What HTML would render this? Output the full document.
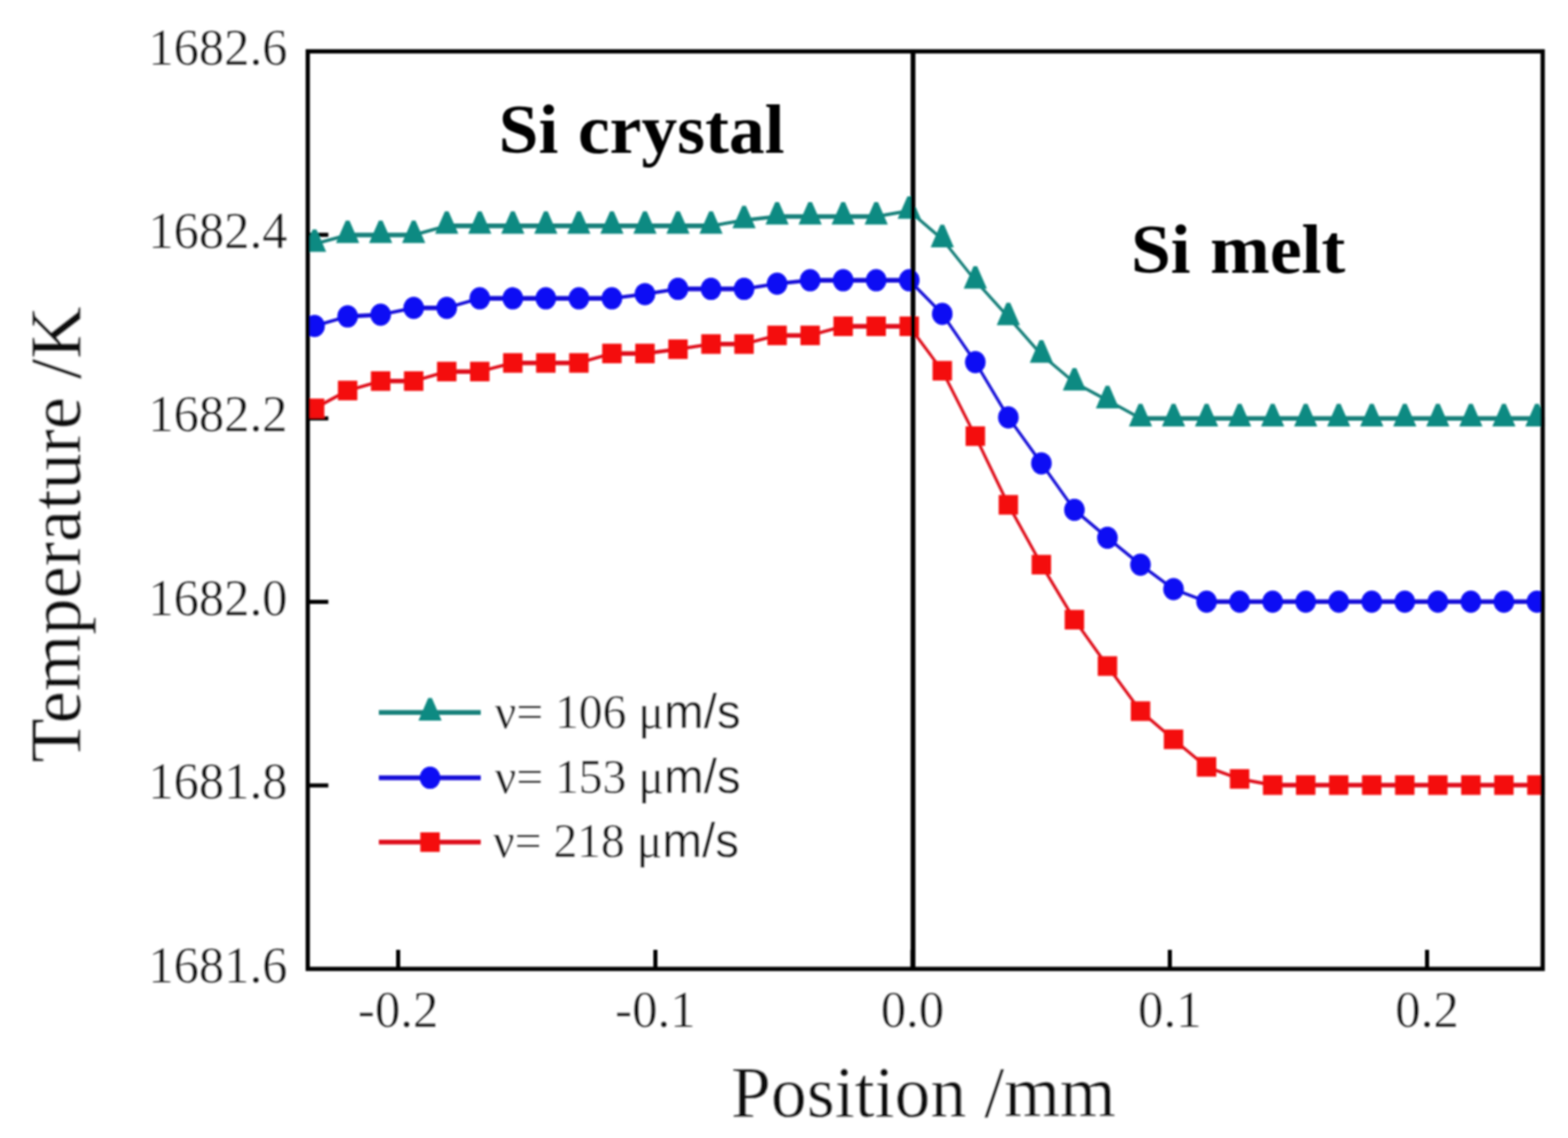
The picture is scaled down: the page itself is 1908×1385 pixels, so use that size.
<!DOCTYPE html>
<html lang="en"><head><meta charset="utf-8"><title>Temperature vs Position</title>
<style>
html,body{margin:0;padding:0;background:#fff;}
body{width:1908px;height:1385px;overflow:hidden;}
svg{display:block;}
text{font-family:"Liberation Serif","Times New Roman",serif;fill:#080808;stroke:#fff;stroke-width:0.4px;}
.tk{font-size:62.5px;}
.ttl{font-size:87px;}
.b{font-weight:bold;font-size:86px;fill:#000;stroke:none;word-spacing:2px;}
.lg{font-size:58.5px;}
.sans{font-family:"Liberation Sans",Arial,sans-serif;}
</style></head><body>
<svg width="1908" height="1385" viewBox="0 0 1908 1385">
<rect x="0" y="0" width="1908" height="1385" fill="#ffffff"/>
<defs><clipPath id="pa"><rect x="372.0" y="62.5" width="1507.2" height="1116.7"/></clipPath>
<filter id="soft" x="-5%" y="-5%" width="110%" height="110%"><feGaussianBlur stdDeviation="1"/></filter></defs>
<g filter="url(#soft)">
<g stroke="#050505" stroke-width="5.0" fill="none">
<line x1="374.5" y1="285.8" x2="399.5" y2="285.8"/>
<line x1="374.5" y1="509.2" x2="399.5" y2="509.2"/>
<line x1="374.5" y1="732.5" x2="399.5" y2="732.5"/>
<line x1="374.5" y1="955.9" x2="399.5" y2="955.9"/>
</g>
<g clip-path="url(#pa)">
<g stroke="#15807a" stroke-linecap="round" fill="none">
<line x1="382.8" y1="296.9" x2="423.0" y2="286.0" stroke-width="3.95"/>
<line x1="423.0" y1="286.0" x2="463.2" y2="286.0" stroke-width="5.60"/>
<line x1="463.2" y1="286.0" x2="503.4" y2="286.0" stroke-width="5.60"/>
<line x1="503.4" y1="286.0" x2="543.6" y2="274.9" stroke-width="3.95"/>
<line x1="543.6" y1="274.9" x2="583.8" y2="274.9" stroke-width="5.60"/>
<line x1="583.8" y1="274.9" x2="624.0" y2="274.9" stroke-width="5.60"/>
<line x1="624.0" y1="274.9" x2="664.2" y2="274.9" stroke-width="5.60"/>
<line x1="664.2" y1="274.9" x2="704.4" y2="274.9" stroke-width="5.60"/>
<line x1="704.4" y1="274.9" x2="744.6" y2="274.9" stroke-width="5.60"/>
<line x1="744.6" y1="274.9" x2="784.8" y2="274.9" stroke-width="5.60"/>
<line x1="784.8" y1="274.9" x2="825.0" y2="274.9" stroke-width="5.60"/>
<line x1="825.0" y1="274.9" x2="865.2" y2="274.9" stroke-width="5.60"/>
<line x1="865.2" y1="274.9" x2="905.4" y2="268.1" stroke-width="4.06"/>
<line x1="905.4" y1="268.1" x2="945.6" y2="263.5" stroke-width="4.56"/>
<line x1="945.6" y1="263.5" x2="985.8" y2="263.5" stroke-width="5.60"/>
<line x1="985.8" y1="263.5" x2="1026.0" y2="263.5" stroke-width="5.60"/>
<line x1="1026.0" y1="263.5" x2="1066.2" y2="263.5" stroke-width="5.60"/>
<line x1="1066.2" y1="263.5" x2="1106.4" y2="256.6" stroke-width="4.04"/>
<line x1="1106.4" y1="256.6" x2="1146.6" y2="291.2" stroke-width="3.69"/>
<line x1="1146.6" y1="291.2" x2="1186.8" y2="341.5" stroke-width="3.60"/>
<line x1="1186.8" y1="341.5" x2="1227.0" y2="386.0" stroke-width="3.62"/>
<line x1="1227.0" y1="386.0" x2="1267.2" y2="431.7" stroke-width="3.61"/>
<line x1="1267.2" y1="431.7" x2="1307.4" y2="465.6" stroke-width="3.70"/>
<line x1="1307.4" y1="465.6" x2="1347.6" y2="487.2" stroke-width="3.82"/>
<line x1="1347.6" y1="487.2" x2="1387.8" y2="509.2" stroke-width="3.81"/>
<line x1="1387.8" y1="509.2" x2="1428.0" y2="509.2" stroke-width="5.60"/>
<line x1="1428.0" y1="509.2" x2="1468.2" y2="509.2" stroke-width="5.60"/>
<line x1="1468.2" y1="509.2" x2="1508.4" y2="509.2" stroke-width="5.60"/>
<line x1="1508.4" y1="509.2" x2="1548.6" y2="509.2" stroke-width="5.60"/>
<line x1="1548.6" y1="509.2" x2="1588.8" y2="509.2" stroke-width="5.60"/>
<line x1="1588.8" y1="509.2" x2="1629.0" y2="509.2" stroke-width="5.60"/>
<line x1="1629.0" y1="509.2" x2="1669.2" y2="509.2" stroke-width="5.60"/>
<line x1="1669.2" y1="509.2" x2="1709.4" y2="509.2" stroke-width="5.60"/>
<line x1="1709.4" y1="509.2" x2="1749.6" y2="509.2" stroke-width="5.60"/>
<line x1="1749.6" y1="509.2" x2="1789.8" y2="509.2" stroke-width="5.60"/>
<line x1="1789.8" y1="509.2" x2="1830.0" y2="509.2" stroke-width="5.60"/>
<line x1="1830.0" y1="509.2" x2="1870.2" y2="509.2" stroke-width="5.60"/>
</g>
<polygon points="380.6,279.3 385.0,279.3 396.9,306.6 368.7,306.6" fill="#0f8a82"/>
<polygon points="420.8,268.4 425.2,268.4 437.1,295.7 408.9,295.7" fill="#0f8a82"/>
<polygon points="461.0,268.4 465.4,268.4 477.3,295.7 449.1,295.7" fill="#0f8a82"/>
<polygon points="501.2,268.4 505.6,268.4 517.5,295.7 489.3,295.7" fill="#0f8a82"/>
<polygon points="541.4,257.3 545.8,257.3 557.7,284.6 529.5,284.6" fill="#0f8a82"/>
<polygon points="581.6,257.3 586.0,257.3 597.9,284.6 569.7,284.6" fill="#0f8a82"/>
<polygon points="621.8,257.3 626.2,257.3 638.1,284.6 609.9,284.6" fill="#0f8a82"/>
<polygon points="662.0,257.3 666.4,257.3 678.3,284.6 650.1,284.6" fill="#0f8a82"/>
<polygon points="702.2,257.3 706.6,257.3 718.5,284.6 690.3,284.6" fill="#0f8a82"/>
<polygon points="742.4,257.3 746.8,257.3 758.7,284.6 730.5,284.6" fill="#0f8a82"/>
<polygon points="782.6,257.3 787.0,257.3 798.9,284.6 770.7,284.6" fill="#0f8a82"/>
<polygon points="822.8,257.3 827.2,257.3 839.1,284.6 810.9,284.6" fill="#0f8a82"/>
<polygon points="863.0,257.3 867.4,257.3 879.3,284.6 851.1,284.6" fill="#0f8a82"/>
<polygon points="903.2,250.5 907.6,250.5 919.5,277.8 891.3,277.8" fill="#0f8a82"/>
<polygon points="943.4,245.9 947.8,245.9 959.7,273.2 931.5,273.2" fill="#0f8a82"/>
<polygon points="983.6,245.9 988.0,245.9 999.9,273.2 971.7,273.2" fill="#0f8a82"/>
<polygon points="1023.8,245.9 1028.2,245.9 1040.1,273.2 1011.9,273.2" fill="#0f8a82"/>
<polygon points="1064.0,245.9 1068.4,245.9 1080.3,273.2 1052.1,273.2" fill="#0f8a82"/>
<polygon points="1104.2,239.0 1108.6,239.0 1120.5,266.3 1092.3,266.3" fill="#0f8a82"/>
<polygon points="1144.4,273.6 1148.8,273.6 1160.7,300.9 1132.5,300.9" fill="#0f8a82"/>
<polygon points="1184.6,323.9 1189.0,323.9 1200.9,351.2 1172.7,351.2" fill="#0f8a82"/>
<polygon points="1224.8,368.4 1229.2,368.4 1241.1,395.7 1212.9,395.7" fill="#0f8a82"/>
<polygon points="1265.0,414.1 1269.4,414.1 1281.3,441.4 1253.1,441.4" fill="#0f8a82"/>
<polygon points="1305.2,448.0 1309.6,448.0 1321.5,475.3 1293.3,475.3" fill="#0f8a82"/>
<polygon points="1345.4,469.6 1349.8,469.6 1361.7,496.9 1333.5,496.9" fill="#0f8a82"/>
<polygon points="1385.6,491.6 1390.0,491.6 1401.9,518.9 1373.7,518.9" fill="#0f8a82"/>
<polygon points="1425.8,491.6 1430.2,491.6 1442.1,518.9 1413.9,518.9" fill="#0f8a82"/>
<polygon points="1466.0,491.6 1470.4,491.6 1482.3,518.9 1454.1,518.9" fill="#0f8a82"/>
<polygon points="1506.2,491.6 1510.6,491.6 1522.5,518.9 1494.3,518.9" fill="#0f8a82"/>
<polygon points="1546.4,491.6 1550.8,491.6 1562.7,518.9 1534.5,518.9" fill="#0f8a82"/>
<polygon points="1586.6,491.6 1591.0,491.6 1602.9,518.9 1574.7,518.9" fill="#0f8a82"/>
<polygon points="1626.8,491.6 1631.2,491.6 1643.1,518.9 1614.9,518.9" fill="#0f8a82"/>
<polygon points="1667.0,491.6 1671.4,491.6 1683.3,518.9 1655.1,518.9" fill="#0f8a82"/>
<polygon points="1707.2,491.6 1711.6,491.6 1723.5,518.9 1695.3,518.9" fill="#0f8a82"/>
<polygon points="1747.4,491.6 1751.8,491.6 1763.7,518.9 1735.5,518.9" fill="#0f8a82"/>
<polygon points="1787.6,491.6 1792.0,491.6 1803.9,518.9 1775.7,518.9" fill="#0f8a82"/>
<polygon points="1827.8,491.6 1832.2,491.6 1844.1,518.9 1815.9,518.9" fill="#0f8a82"/>
<polygon points="1868.0,491.6 1872.4,491.6 1884.3,518.9 1856.1,518.9" fill="#0f8a82"/>
<g stroke="#120cd8" stroke-linecap="round" fill="none">
<line x1="382.8" y1="396.7" x2="423.0" y2="385.1" stroke-width="3.94"/>
<line x1="423.0" y1="385.1" x2="463.2" y2="383.0" stroke-width="5.12"/>
<line x1="463.2" y1="383.0" x2="503.4" y2="374.7" stroke-width="3.98"/>
<line x1="503.4" y1="374.7" x2="543.6" y2="374.7" stroke-width="5.60"/>
<line x1="543.6" y1="374.7" x2="583.8" y2="363.1" stroke-width="3.94"/>
<line x1="583.8" y1="363.1" x2="624.0" y2="363.1" stroke-width="5.60"/>
<line x1="624.0" y1="363.1" x2="664.2" y2="363.1" stroke-width="5.60"/>
<line x1="664.2" y1="363.1" x2="704.4" y2="363.1" stroke-width="5.60"/>
<line x1="704.4" y1="363.1" x2="744.6" y2="363.1" stroke-width="5.60"/>
<line x1="744.6" y1="363.1" x2="784.8" y2="357.9" stroke-width="4.42"/>
<line x1="784.8" y1="357.9" x2="825.0" y2="351.6" stroke-width="4.17"/>
<line x1="825.0" y1="351.6" x2="865.2" y2="351.6" stroke-width="5.60"/>
<line x1="865.2" y1="351.6" x2="905.4" y2="351.6" stroke-width="5.60"/>
<line x1="905.4" y1="351.6" x2="945.6" y2="345.3" stroke-width="4.17"/>
<line x1="945.6" y1="345.3" x2="985.8" y2="341.1" stroke-width="4.65"/>
<line x1="985.8" y1="341.1" x2="1026.0" y2="341.1" stroke-width="5.60"/>
<line x1="1026.0" y1="341.1" x2="1066.2" y2="341.1" stroke-width="5.60"/>
<line x1="1066.2" y1="341.1" x2="1106.4" y2="341.1" stroke-width="5.60"/>
<line x1="1106.4" y1="341.1" x2="1146.6" y2="382.0" stroke-width="3.65"/>
<line x1="1146.6" y1="382.0" x2="1186.8" y2="440.7" stroke-width="3.60"/>
<line x1="1186.8" y1="440.7" x2="1227.0" y2="508.0" stroke-width="3.60"/>
<line x1="1227.0" y1="508.0" x2="1267.2" y2="563.9" stroke-width="3.60"/>
<line x1="1267.2" y1="563.9" x2="1307.4" y2="620.5" stroke-width="3.60"/>
<line x1="1307.4" y1="620.5" x2="1347.6" y2="654.5" stroke-width="3.70"/>
<line x1="1347.6" y1="654.5" x2="1387.8" y2="687.2" stroke-width="3.71"/>
<line x1="1387.8" y1="687.2" x2="1428.0" y2="717.0" stroke-width="3.73"/>
<line x1="1428.0" y1="717.0" x2="1468.2" y2="732.3" stroke-width="3.89"/>
<line x1="1468.2" y1="732.3" x2="1508.4" y2="732.3" stroke-width="5.60"/>
<line x1="1508.4" y1="732.3" x2="1548.6" y2="732.3" stroke-width="5.60"/>
<line x1="1548.6" y1="732.3" x2="1588.8" y2="732.3" stroke-width="5.60"/>
<line x1="1588.8" y1="732.3" x2="1629.0" y2="732.3" stroke-width="5.60"/>
<line x1="1629.0" y1="732.3" x2="1669.2" y2="732.3" stroke-width="5.60"/>
<line x1="1669.2" y1="732.3" x2="1709.4" y2="732.3" stroke-width="5.60"/>
<line x1="1709.4" y1="732.3" x2="1749.6" y2="732.3" stroke-width="5.60"/>
<line x1="1749.6" y1="732.3" x2="1789.8" y2="732.3" stroke-width="5.60"/>
<line x1="1789.8" y1="732.3" x2="1830.0" y2="732.3" stroke-width="5.60"/>
<line x1="1830.0" y1="732.3" x2="1870.2" y2="732.3" stroke-width="5.60"/>
</g>
<ellipse cx="382.8" cy="396.7" rx="12.5" ry="13.5" fill="#0808f4"/>
<ellipse cx="423.0" cy="385.1" rx="12.5" ry="13.5" fill="#0808f4"/>
<ellipse cx="463.2" cy="383.0" rx="12.5" ry="13.5" fill="#0808f4"/>
<ellipse cx="503.4" cy="374.7" rx="12.5" ry="13.5" fill="#0808f4"/>
<ellipse cx="543.6" cy="374.7" rx="12.5" ry="13.5" fill="#0808f4"/>
<ellipse cx="583.8" cy="363.1" rx="12.5" ry="13.5" fill="#0808f4"/>
<ellipse cx="624.0" cy="363.1" rx="12.5" ry="13.5" fill="#0808f4"/>
<ellipse cx="664.2" cy="363.1" rx="12.5" ry="13.5" fill="#0808f4"/>
<ellipse cx="704.4" cy="363.1" rx="12.5" ry="13.5" fill="#0808f4"/>
<ellipse cx="744.6" cy="363.1" rx="12.5" ry="13.5" fill="#0808f4"/>
<ellipse cx="784.8" cy="357.9" rx="12.5" ry="13.5" fill="#0808f4"/>
<ellipse cx="825.0" cy="351.6" rx="12.5" ry="13.5" fill="#0808f4"/>
<ellipse cx="865.2" cy="351.6" rx="12.5" ry="13.5" fill="#0808f4"/>
<ellipse cx="905.4" cy="351.6" rx="12.5" ry="13.5" fill="#0808f4"/>
<ellipse cx="945.6" cy="345.3" rx="12.5" ry="13.5" fill="#0808f4"/>
<ellipse cx="985.8" cy="341.1" rx="12.5" ry="13.5" fill="#0808f4"/>
<ellipse cx="1026.0" cy="341.1" rx="12.5" ry="13.5" fill="#0808f4"/>
<ellipse cx="1066.2" cy="341.1" rx="12.5" ry="13.5" fill="#0808f4"/>
<ellipse cx="1106.4" cy="341.1" rx="12.5" ry="13.5" fill="#0808f4"/>
<ellipse cx="1146.6" cy="382.0" rx="12.5" ry="13.5" fill="#0808f4"/>
<ellipse cx="1186.8" cy="440.7" rx="12.5" ry="13.5" fill="#0808f4"/>
<ellipse cx="1227.0" cy="508.0" rx="12.5" ry="13.5" fill="#0808f4"/>
<ellipse cx="1267.2" cy="563.9" rx="12.5" ry="13.5" fill="#0808f4"/>
<ellipse cx="1307.4" cy="620.5" rx="12.5" ry="13.5" fill="#0808f4"/>
<ellipse cx="1347.6" cy="654.5" rx="12.5" ry="13.5" fill="#0808f4"/>
<ellipse cx="1387.8" cy="687.2" rx="12.5" ry="13.5" fill="#0808f4"/>
<ellipse cx="1428.0" cy="717.0" rx="12.5" ry="13.5" fill="#0808f4"/>
<ellipse cx="1468.2" cy="732.3" rx="12.5" ry="13.5" fill="#0808f4"/>
<ellipse cx="1508.4" cy="732.3" rx="12.5" ry="13.5" fill="#0808f4"/>
<ellipse cx="1548.6" cy="732.3" rx="12.5" ry="13.5" fill="#0808f4"/>
<ellipse cx="1588.8" cy="732.3" rx="12.5" ry="13.5" fill="#0808f4"/>
<ellipse cx="1629.0" cy="732.3" rx="12.5" ry="13.5" fill="#0808f4"/>
<ellipse cx="1669.2" cy="732.3" rx="12.5" ry="13.5" fill="#0808f4"/>
<ellipse cx="1709.4" cy="732.3" rx="12.5" ry="13.5" fill="#0808f4"/>
<ellipse cx="1749.6" cy="732.3" rx="12.5" ry="13.5" fill="#0808f4"/>
<ellipse cx="1789.8" cy="732.3" rx="12.5" ry="13.5" fill="#0808f4"/>
<ellipse cx="1830.0" cy="732.3" rx="12.5" ry="13.5" fill="#0808f4"/>
<ellipse cx="1870.2" cy="732.3" rx="12.5" ry="13.5" fill="#0808f4"/>
<g stroke="#df0e1a" stroke-linecap="round" fill="none">
<line x1="382.8" y1="497.0" x2="423.0" y2="475.3" stroke-width="3.82"/>
<line x1="423.0" y1="475.3" x2="463.2" y2="463.8" stroke-width="3.94"/>
<line x1="463.2" y1="463.8" x2="503.4" y2="463.8" stroke-width="5.60"/>
<line x1="503.4" y1="463.8" x2="543.6" y2="452.2" stroke-width="3.94"/>
<line x1="543.6" y1="452.2" x2="583.8" y2="452.2" stroke-width="5.60"/>
<line x1="583.8" y1="452.2" x2="624.0" y2="441.7" stroke-width="3.95"/>
<line x1="624.0" y1="441.7" x2="664.2" y2="441.7" stroke-width="5.60"/>
<line x1="664.2" y1="441.7" x2="704.4" y2="441.7" stroke-width="5.60"/>
<line x1="704.4" y1="441.7" x2="744.6" y2="430.2" stroke-width="3.94"/>
<line x1="744.6" y1="430.2" x2="784.8" y2="430.2" stroke-width="5.60"/>
<line x1="784.8" y1="430.2" x2="825.0" y2="425.0" stroke-width="4.42"/>
<line x1="825.0" y1="425.0" x2="865.2" y2="418.7" stroke-width="4.17"/>
<line x1="865.2" y1="418.7" x2="905.4" y2="418.7" stroke-width="5.60"/>
<line x1="905.4" y1="418.7" x2="945.6" y2="408.2" stroke-width="3.95"/>
<line x1="945.6" y1="408.2" x2="985.8" y2="408.2" stroke-width="5.60"/>
<line x1="985.8" y1="408.2" x2="1026.0" y2="397.1" stroke-width="3.95"/>
<line x1="1026.0" y1="397.1" x2="1066.2" y2="397.1" stroke-width="5.60"/>
<line x1="1066.2" y1="397.1" x2="1106.4" y2="397.1" stroke-width="5.60"/>
<line x1="1106.4" y1="397.1" x2="1146.6" y2="451.2" stroke-width="3.60"/>
<line x1="1146.6" y1="451.2" x2="1186.8" y2="530.8" stroke-width="3.60"/>
<line x1="1186.8" y1="530.8" x2="1227.0" y2="614.4" stroke-width="3.60"/>
<line x1="1227.0" y1="614.4" x2="1267.2" y2="687.2" stroke-width="3.60"/>
<line x1="1267.2" y1="687.2" x2="1307.4" y2="754.2" stroke-width="3.60"/>
<line x1="1307.4" y1="754.2" x2="1347.6" y2="810.6" stroke-width="3.60"/>
<line x1="1347.6" y1="810.6" x2="1387.8" y2="865.5" stroke-width="3.60"/>
<line x1="1387.8" y1="865.5" x2="1428.0" y2="899.8" stroke-width="3.70"/>
<line x1="1428.0" y1="899.8" x2="1468.2" y2="933.3" stroke-width="3.70"/>
<line x1="1468.2" y1="933.3" x2="1508.4" y2="948.0" stroke-width="3.90"/>
<line x1="1508.4" y1="948.0" x2="1548.6" y2="955.5" stroke-width="3.99"/>
<line x1="1548.6" y1="955.5" x2="1588.8" y2="955.5" stroke-width="5.60"/>
<line x1="1588.8" y1="955.5" x2="1629.0" y2="955.5" stroke-width="5.60"/>
<line x1="1629.0" y1="955.5" x2="1669.2" y2="955.5" stroke-width="5.60"/>
<line x1="1669.2" y1="955.5" x2="1709.4" y2="955.5" stroke-width="5.60"/>
<line x1="1709.4" y1="955.5" x2="1749.6" y2="955.5" stroke-width="5.60"/>
<line x1="1749.6" y1="955.5" x2="1789.8" y2="955.5" stroke-width="5.60"/>
<line x1="1789.8" y1="955.5" x2="1830.0" y2="955.5" stroke-width="5.60"/>
<line x1="1830.0" y1="955.5" x2="1870.2" y2="955.5" stroke-width="5.60"/>
</g>
<rect x="371.0" y="485.1" width="23.6" height="23.8" fill="#f40a0a"/>
<rect x="411.2" y="463.4" width="23.6" height="23.8" fill="#f40a0a"/>
<rect x="451.4" y="451.9" width="23.6" height="23.8" fill="#f40a0a"/>
<rect x="491.6" y="451.9" width="23.6" height="23.8" fill="#f40a0a"/>
<rect x="531.8" y="440.3" width="23.6" height="23.8" fill="#f40a0a"/>
<rect x="572.0" y="440.3" width="23.6" height="23.8" fill="#f40a0a"/>
<rect x="612.2" y="429.8" width="23.6" height="23.8" fill="#f40a0a"/>
<rect x="652.4" y="429.8" width="23.6" height="23.8" fill="#f40a0a"/>
<rect x="692.6" y="429.8" width="23.6" height="23.8" fill="#f40a0a"/>
<rect x="732.8" y="418.3" width="23.6" height="23.8" fill="#f40a0a"/>
<rect x="773.0" y="418.3" width="23.6" height="23.8" fill="#f40a0a"/>
<rect x="813.2" y="413.1" width="23.6" height="23.8" fill="#f40a0a"/>
<rect x="853.4" y="406.8" width="23.6" height="23.8" fill="#f40a0a"/>
<rect x="893.6" y="406.8" width="23.6" height="23.8" fill="#f40a0a"/>
<rect x="933.8" y="396.3" width="23.6" height="23.8" fill="#f40a0a"/>
<rect x="974.0" y="396.3" width="23.6" height="23.8" fill="#f40a0a"/>
<rect x="1014.2" y="385.2" width="23.6" height="23.8" fill="#f40a0a"/>
<rect x="1054.4" y="385.2" width="23.6" height="23.8" fill="#f40a0a"/>
<rect x="1094.6" y="385.2" width="23.6" height="23.8" fill="#f40a0a"/>
<rect x="1134.8" y="439.3" width="23.6" height="23.8" fill="#f40a0a"/>
<rect x="1175.0" y="518.9" width="23.6" height="23.8" fill="#f40a0a"/>
<rect x="1215.2" y="602.5" width="23.6" height="23.8" fill="#f40a0a"/>
<rect x="1255.4" y="675.3" width="23.6" height="23.8" fill="#f40a0a"/>
<rect x="1295.6" y="742.3" width="23.6" height="23.8" fill="#f40a0a"/>
<rect x="1335.8" y="798.7" width="23.6" height="23.8" fill="#f40a0a"/>
<rect x="1376.0" y="853.6" width="23.6" height="23.8" fill="#f40a0a"/>
<rect x="1416.2" y="887.9" width="23.6" height="23.8" fill="#f40a0a"/>
<rect x="1456.4" y="921.4" width="23.6" height="23.8" fill="#f40a0a"/>
<rect x="1496.6" y="936.1" width="23.6" height="23.8" fill="#f40a0a"/>
<rect x="1536.8" y="943.6" width="23.6" height="23.8" fill="#f40a0a"/>
<rect x="1577.0" y="943.6" width="23.6" height="23.8" fill="#f40a0a"/>
<rect x="1617.2" y="943.6" width="23.6" height="23.8" fill="#f40a0a"/>
<rect x="1657.4" y="943.6" width="23.6" height="23.8" fill="#f40a0a"/>
<rect x="1697.6" y="943.6" width="23.6" height="23.8" fill="#f40a0a"/>
<rect x="1737.8" y="943.6" width="23.6" height="23.8" fill="#f40a0a"/>
<rect x="1778.0" y="943.6" width="23.6" height="23.8" fill="#f40a0a"/>
<rect x="1818.2" y="943.6" width="23.6" height="23.8" fill="#f40a0a"/>
<rect x="1858.4" y="943.6" width="23.6" height="23.8" fill="#f40a0a"/>
</g>
<g stroke="#050505" stroke-width="5.2" fill="none" stroke-linecap="butt">
<rect x="374.5" y="62.5" width="1502.7" height="1116.7"/>
<line x1="1111.0" y1="62.5" x2="1111.0" y2="1179.2" stroke-width="5.8"/>
<line x1="484.5" y1="1179.2" x2="484.5" y2="1156" stroke-width="5"/>
<line x1="797.5" y1="1179.2" x2="797.5" y2="1156" stroke-width="5"/>
<line x1="1110.3" y1="1179.2" x2="1110.3" y2="1156" stroke-width="5"/>
<line x1="1423.5" y1="1179.2" x2="1423.5" y2="1156" stroke-width="5"/>
<line x1="1736.5" y1="1179.2" x2="1736.5" y2="1156" stroke-width="5"/>
</g>
<text class="tk" transform="translate(349.8,78.7) scale(0.985,1.0)" text-anchor="end">1682.6</text>
<text class="tk" transform="translate(349.8,302.1) scale(0.985,1.0)" text-anchor="end">1682.4</text>
<text class="tk" transform="translate(349.8,525.4) scale(0.985,1.0)" text-anchor="end">1682.2</text>
<text class="tk" transform="translate(349.8,748.8) scale(0.985,1.0)" text-anchor="end">1682.0</text>
<text class="tk" transform="translate(349.8,972.1) scale(0.985,1.0)" text-anchor="end">1681.8</text>
<text class="tk" transform="translate(349.8,1195.5) scale(0.985,1.0)" text-anchor="end">1681.6</text>
<text class="tk" transform="translate(484.5,1250.0) scale(0.99,1.0)" text-anchor="middle">-0.2</text>
<text class="tk" transform="translate(797.5,1250.0) scale(0.99,1.0)" text-anchor="middle">-0.1</text>
<text class="tk" transform="translate(1110.3,1250.0) scale(0.99,1.0)" text-anchor="middle">0.0</text>
<text class="tk" transform="translate(1423.5,1250.0) scale(0.99,1.0)" text-anchor="middle">0.1</text>
<text class="tk" transform="translate(1736.5,1250.0) scale(0.99,1.0)" text-anchor="middle">0.2</text>
<text class="ttl" transform="translate(1123.6,1359.0) scale(1.004,1.017)" text-anchor="middle">Position /mm</text>
<text class="ttl" transform="translate(97.0,650.5) rotate(-90) scale(1.015,1.02)" text-anchor="middle">Temperature /K</text>
<text class="b" transform="translate(780.7,186.0) scale(1.013,0.985)" text-anchor="middle">Si crystal</text>
<text class="b" transform="translate(1506.6,331.6) scale(1.013,0.985)" text-anchor="middle">Si melt</text>
<line x1="461" y1="867.2" x2="585" y2="867.2" stroke="#15807a" stroke-width="5.7"/>
<polygon points="521.1,849.6 525.5,849.6 537.4,876.9 509.2,876.9" fill="#0f8a82"/>
<text class="lg" transform="translate(602.0,885.5) scale(0.991,1.0)" text-anchor="start">ν= 106 μ<tspan class="sans">m/s</tspan></text>
<line x1="461" y1="946.6" x2="585" y2="946.6" stroke="#120cd8" stroke-width="5.7"/>
<ellipse cx="523.3" cy="946.6" rx="12.5" ry="13.5" fill="#0808f4"/>
<text class="lg" transform="translate(602.0,964.7) scale(0.991,1.0)" text-anchor="start">ν= 153 μ<tspan class="sans">m/s</tspan></text>
<line x1="461" y1="1024.9" x2="585" y2="1024.9" stroke="#df0e1a" stroke-width="5.7"/>
<rect x="511.5" y="1013.0" width="23.6" height="23.8" fill="#f40a0a"/>
<text class="lg" transform="translate(600.0,1042.7) scale(0.991,1.0)" text-anchor="start">ν= 218 μ<tspan class="sans">m/s</tspan></text>
</g></svg></body></html>
